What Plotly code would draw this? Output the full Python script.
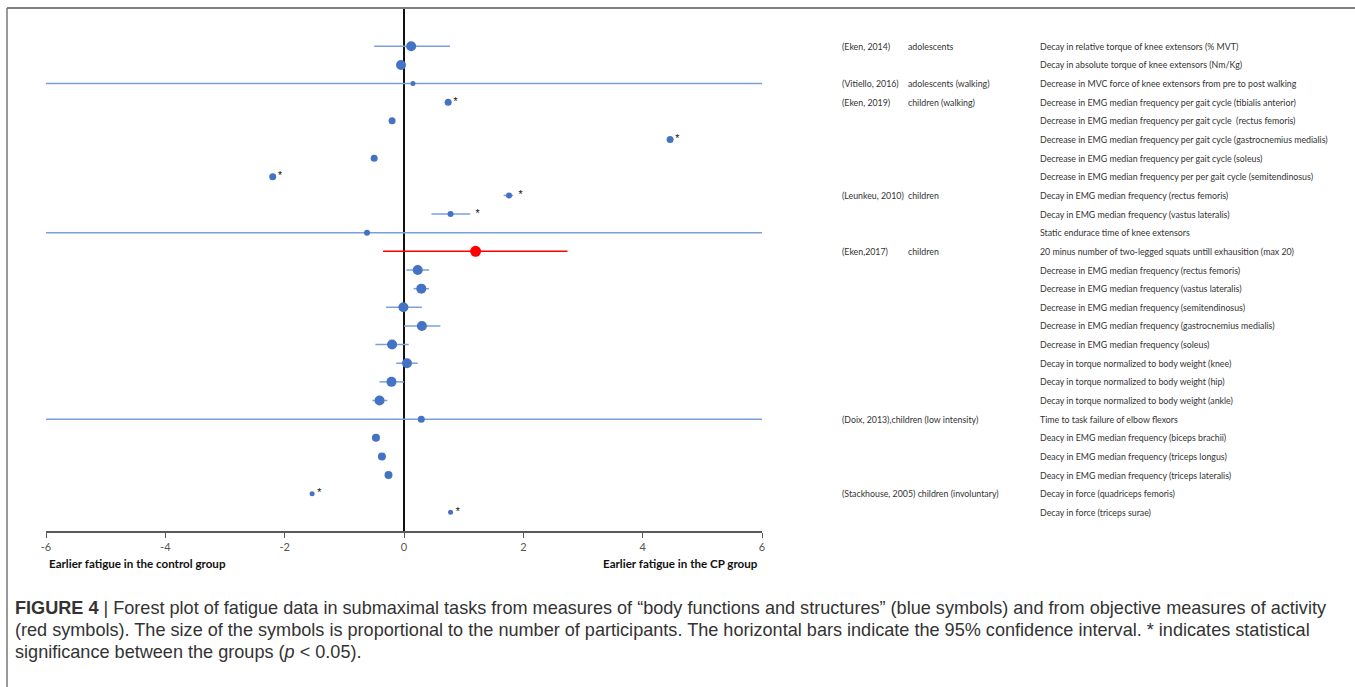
import plotly.graph_objects as go

# ---------------- data ----------------
rows = list(range(1, 27))
study = ["(Eken, 2014)", "", "(Vitiello, 2016)", "(Eken, 2019)", "", "", "", "",
         "(Leunkeu, 2010)", "", "", "(Eken,2017)", "", "", "", "", "", "", "", "",
         "(Doix, 2013),children (low intensity)", "", "", "",
         "(Stackhouse, 2005) children (involuntary)", ""]
population = ["adolescents", "", "adolescents (walking)", "children (walking)", "", "", "", "",
              "children", "", "", "children", "", "", "", "", "", "", "", "",
              "", "", "", "", "", ""]
outcome = [
    "Decay in relative torque of knee extensors (% MVT)",
    "Decay in absolute torque of knee extensors (Nm/Kg)",
    "Decrease in MVC force of knee extensors from pre to post walking",
    "Decrease in EMG median frequency per gait cycle (tibialis anterior)",
    "Decrease in EMG median frequency per gait cycle  (rectus femoris)",
    "Decrease in EMG median frequency per gait cycle (gastrocnemius medialis)",
    "Decrease in EMG median frequency per gait cycle (soleus)",
    "Decrease in EMG median frequency per per gait cycle (semitendinosus)",
    "Decay in EMG median frequency (rectus femoris)",
    "Decay in EMG median frequency (vastus lateralis)",
    "Static endurace time of knee extensors",
    "20 minus number of two-legged squats untill exhausition (max 20)",
    "Decrease in EMG median frequency (rectus femoris)",
    "Decrease in EMG median frequency (vastus lateralis)",
    "Decrease in EMG median frequency (semitendinosus)",
    "Decrease in EMG median frequency (gastrocnemius medialis)",
    "Decrease in EMG median frequency (soleus)",
    "Decay in torque normalized to body weight (knee)",
    "Decay in torque normalized to body weight (hip)",
    "Decay in torque normalized to body weight (ankle)",
    "Time to task failure of elbow flexors",
    "Deacy in EMG median frequency (biceps brachii)",
    "Deacy in EMG median frequency (triceps longus)",
    "Deacy in EMG median frequency (triceps lateralis)",
    "Decay in force (quadriceps femoris)",
    "Decay in force (triceps surae)",
]
estimate = [0.12, -0.05, 0.15, 0.74, -0.20, 4.46, -0.50, -2.20, 1.76, 0.78, -0.62, 1.20,
            0.23, 0.29, -0.01, 0.30, -0.20, 0.05, -0.21, -0.41, 0.29, -0.47, -0.37, -0.26,
            -1.54, 0.78]
ci_low = [-0.50, -0.05, -6.0, 0.74, -0.20, 4.46, -0.50, -2.20, 1.67, 0.46, -6.0, -0.35,
          0.04, 0.16, -0.30, 0.00, -0.48, -0.13, -0.41, -0.53, -6.0, -0.47, -0.37, -0.26,
          -1.54, 0.78]
ci_high = [0.77, -0.05, 6.0, 0.74, -0.20, 4.46, -0.50, -2.20, 1.83, 1.11, 6.0, 2.74,
           0.42, 0.42, 0.30, 0.61, 0.08, 0.23, 0.00, -0.28, 6.0, -0.47, -0.37, -0.26,
           -1.54, 0.78]
participants_size = [10, 10, 5, 7, 7, 7, 7, 7, 6, 6, 6, 11, 10, 10, 10, 10, 10, 10, 10, 10,
                     7, 8, 8, 8, 5, 5]
significant = [False, False, False, True, False, True, False, True, True, True, False, False,
               False, False, False, False, False, False, False, False, False, False, False,
               False, True, True]
group = ["body"] * 11 + ["activity"] + ["body"] * 14
x_ticks = [-6, -4, -2, 0, 2, 4, 6]
x_tick_labels = ["-6", "-4", "-2", "0", "2", "4", "6"]
x_left_label = "Earlier fatigue in the control group"
x_right_label = "Earlier fatigue in the CP group"
caption_lines = [
    "<b>FIGURE 4</b> | Forest plot of fatigue data in submaximal tasks from measures of \u201cbody functions and structures\u201d (blue symbols) and from objective measures of activity",
    "(red symbols). The size of the symbols is proportional to the number of participants. The horizontal bars indicate the 95% confidence interval. * indicates statistical",
    "significance between the groups (<i>p</i> &lt; 0.05).",
]

# ---------------- layout geometry ----------------
W, H = 1355, 687
L, R_EDGE = 46, 762
T, B_EDGE = 9, 531
PW, PH = R_EDGE - L, B_EDGE - T


def px(xp):
    return (xp - L) / PW


def py(yp):
    return (B_EDGE - yp) / PH


colors = {"body": "#4472c4", "activity": "#ff0000"}
bar_colors = {"body": "#7aa0d8", "activity": "#ff0000"}

fig = go.Figure()
for g in ["body", "activity"]:
    idx = [i for i in range(len(rows)) if group[i] == g]
    fig.add_trace(go.Scatter(
        x=[estimate[i] for i in idx],
        y=[rows[i] for i in idx],
        mode="markers",
        marker=dict(size=[participants_size[i] for i in idx], color=colors[g],
                    opacity=1, line=dict(width=0)),
        error_x=dict(type="data", symmetric=False,
                     array=[ci_high[i] - estimate[i] for i in idx],
                     arrayminus=[estimate[i] - ci_low[i] for i in idx],
                     color=bar_colors[g], thickness=1.5, width=0),
        showlegend=False, hoverinfo="x+y", cliponaxis=True,
    ))

# significance asterisks, placed just after the right end of each interval
sig_idx = [i for i in range(len(rows)) if significant[i]]
fig.add_trace(go.Scatter(
    x=[ci_high[i] for i in sig_idx],
    y=[rows[i] for i in sig_idx],
    mode="text",
    text=["\u2002*" for _ in sig_idx],
    textposition="middle right",
    textfont=dict(size=10.5, color="#111", family="Liberation Sans"),
    showlegend=False, hoverinfo="skip",
))

annotations = []
tfont = dict(family="Lato, Liberation Sans", size=8.8, color="#333")
for i, r in enumerate(rows):
    if study[i]:
        annotations.append(dict(x=px(840), y=r, xref="paper", yref="y", text=study[i],
                                showarrow=False, xanchor="left", yanchor="middle", font=tfont))
    if population[i]:
        annotations.append(dict(x=px(906), y=r, xref="paper", yref="y", text=population[i],
                                showarrow=False, xanchor="left", yanchor="middle", font=tfont))
    annotations.append(dict(x=px(1038), y=r, xref="paper", yref="y", text=outcome[i],
                            showarrow=False, xanchor="left", yanchor="middle", font=tfont))

bfont = dict(family="Lato, Liberation Sans", size=11.6, color="#111")
annotations.append(dict(x=px(47), y=py(563), xref="paper", yref="paper", text="<b>" + x_left_label + "</b>",
                        showarrow=False, xanchor="left", yanchor="middle", font=bfont))
annotations.append(dict(x=px(760), y=py(563), xref="paper", yref="paper", text="<b>" + x_right_label + "</b>",
                        showarrow=False, xanchor="right", yanchor="middle", font=bfont))

cfont = dict(family="Liberation Sans, Arial", size=18.1, color="#333")
for k, line in enumerate(caption_lines):
    annotations.append(dict(x=px(13), y=py(608 + 22 * k), xref="paper", yref="paper", text=line,
                            showarrow=False, xanchor="left", yanchor="middle", font=cfont))

shapes = [
    dict(type="line", xref="paper", yref="paper", x0=px(7), x1=px(W), y0=py(8), y1=py(8),
         line=dict(color="#555", width=1.5)),
    dict(type="line", xref="paper", yref="paper", x0=px(7), x1=px(7), y0=py(8), y1=py(H),
         line=dict(color="#777", width=1.5)),
]

fig.update_layout(
    width=W, height=H,
    margin=dict(l=L, r=W - R_EDGE, t=T, b=H - B_EDGE, pad=0),
    paper_bgcolor="white", plot_bgcolor="white",
    xaxis=dict(range=[-6, 6], tickvals=x_ticks, ticktext=x_tick_labels, showgrid=False,
               zeroline=True, zerolinecolor="#111", zerolinewidth=1.5, showline=True,
               linecolor="#595959", linewidth=2, ticks="outside", ticklen=5,
               tickcolor="#595959", tickwidth=1,
               tickfont=dict(family="Lato, Liberation Sans", size=11, color="#555")),
    yaxis=dict(range=[27, -1], visible=False, showgrid=False, zeroline=False),
    annotations=annotations, shapes=shapes,
)

fig.write_html("out.html", config={"displayModeBar": False},
               post_script="document.body.style.margin='0';document.body.style.overflow='hidden';")
